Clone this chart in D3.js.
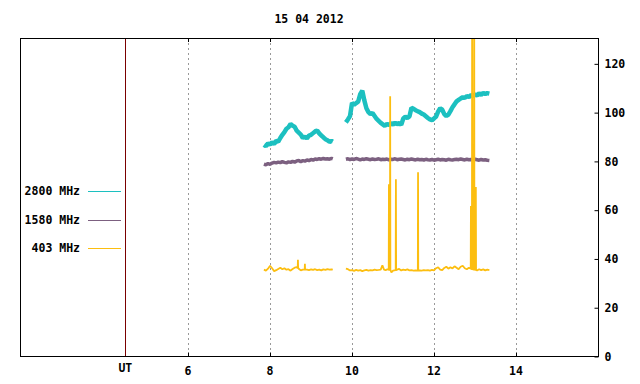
<!DOCTYPE html>
<meta charset="utf-8">
<script src="https://cdn.jsdelivr.net/npm/d3@7"></script>
<style>
	body{margin:0;background:#fff;}
	text{font-family:"DejaVu Sans Mono",monospace;font-weight:bold;font-size:11.5px;fill:#000;}
</style>
<div id="chart"></div>
<script>
var title = "15 04 2012"
var xTicks = [6,8,10,12,14]
var yTicks = [0,20,40,60,80,100,120]
var legendNames = ["2800 MHz","1580 MHz","403 MHz"]
var colors = ["#1cc0c0","#7c6080","#fcbe10"]

// first block of observations (UT hours)
var hours1 = [7.85,7.90,7.95,8.00,8.05,8.10,8.15,8.20,8.25,8.30,
	8.35,8.40,8.45,8.50,8.55,8.60,8.65,8.70,8.75,8.80,
	8.85,8.90,8.95,9.00,9.05,9.10,9.15,9.20,9.25,9.30,
	9.35,9.40,9.45,9.50,9.53]
var f2800_1 = [86.8,86.2,87.4,86.9,87.8,87.2,88.4,88.1,89.6,90.9,
	92.0,93.4,94.0,95.3,94.6,94.2,92.6,91.8,91.0,89.6,
	90.2,89.4,90.6,90.9,91.6,92.3,92.7,91.5,90.6,89.9,
	89.1,88.7,88.0,88.4,88.1]
var f1580_1 = [78.9,78.6,79.1,78.8,79.3,79.6,79.4,79.7,79.5,79.9,
	79.6,79.4,79.8,79.6,80.0,79.7,80.2,80.4,79.9,80.3,
	80.1,80.6,80.3,80.8,80.5,81.0,80.8,81.1,80.9,81.2,
	81.0,81.1,80.9,81.2,81.0]

// second block
var hours2 = [9.85,9.90,9.95,10.00,10.05,10.10,10.15,10.20,10.25,10.30,
	10.35,10.40,10.45,10.50,10.55,10.60,10.65,10.70,10.75,10.80,
	10.85,10.90,10.95,11.00,11.05,11.10,11.15,11.20,11.25,11.30,
	11.35,11.40,11.45,11.50,11.55,11.60,11.65,11.70,11.75,11.80,
	11.85,11.90,11.95,12.00,12.05,12.10,12.15,12.20,12.25,12.30,
	12.35,12.40,12.45,12.50,12.55,12.60,12.65,12.70,12.75,12.80,
	12.85,12.90,12.95,13.00,13.05,13.10,13.15,13.20,13.25,13.30,
	13.35]
var f2800_2 = [96.0,97.2,98.6,104.0,103.2,103.9,104.5,107.6,109.0,105.0,
	101.8,100.2,99.4,99.8,98.6,97.4,96.6,95.8,95.2,94.6,
	95.3,94.9,95.7,95.1,95.9,95.2,95.8,95.0,97.6,98.3,
	97.8,98.4,102.0,101.6,101.0,100.6,100.2,99.6,99.2,98.5,
	97.8,97.2,96.9,97.6,98.4,100.4,101.8,101.2,99.4,98.6,
	99.2,100.6,102.2,103.4,104.6,105.2,105.8,106.3,106.0,106.8,
	106.4,107.2,106.8,107.4,107.0,107.9,107.3,108.1,107.6,108.0,
	107.8]
var f1580_2 = [80.9,81.1,80.7,81.0,80.8,81.2,80.9,80.6,81.0,80.8,
	81.1,80.9,80.7,81.0,80.8,80.9,81.1,80.7,80.9,80.8,
	81.0,80.6,80.9,80.8,81.1,80.7,80.9,81.0,80.8,80.6,
	80.9,80.7,81.0,80.8,80.6,80.9,80.7,80.8,80.5,80.9,
	80.7,80.6,80.8,80.5,80.7,80.9,80.6,80.8,80.7,80.5,
	80.9,80.7,80.6,80.8,80.9,80.7,81.0,80.8,80.6,80.9,
	80.7,80.8,80.6,80.9,80.7,80.5,80.8,80.6,80.7,80.5,
	80.4]

// 403 MHz has its own time stamps (short bursts)
var hours403_1 = [7.85,7.90,7.95,8.00,8.05,8.10,8.15,8.20,8.25,8.30,
	8.35,8.40,8.45,8.50,8.55,8.60,8.65,8.675,8.68,8.685,
	8.70,8.75,8.80,8.845,8.85,8.855,8.90,8.95,9.00,9.05,
	9.10,9.15,9.20,9.25,9.30,9.35,9.40,9.45,9.50,9.53]
var f403_1 = [35.6,35.2,36.0,37.2,36.2,35.0,35.4,35.9,36.4,35.8,
	36.2,35.6,35.8,35.2,35.9,36.4,36.6,36.2,39.7,36.4,
	36.0,35.3,35.6,35.6,38.0,35.6,35.6,35.4,35.7,35.5,
	35.8,35.4,35.6,35.3,35.7,35.5,35.8,35.6,35.7,35.6]
var hours403_2 = [9.85,9.90,9.95,10.00,10.05,10.10,10.15,10.20,10.25,10.30,
	10.35,10.40,10.45,10.50,10.55,10.60,10.65,10.70,10.74,10.78,
	10.82,10.86,10.895,10.90,10.905,10.925,10.93,10.935,10.96,11.00,
	11.03,11.065,11.07,11.075,11.10,11.15,11.20,11.25,11.30,11.35,
	11.40,11.45,11.50,11.55,11.605,11.61,11.615,11.65,11.70,11.75,
	11.80,11.85,11.90,11.95,12.00,12.05,12.10,12.15,12.20,12.25,
	12.30,12.35,12.40,12.45,12.50,12.55,12.60,12.65,12.70,12.75,
	12.80,12.85,12.895,12.90,12.905,12.925,12.93,12.935,12.975,12.98,
	12.985,13.015,13.02,13.025,13.05,13.10,13.15,13.20,13.25,13.30,
	13.35]
var f403_2 = [36.0,35.8,35.3,35.4,35.1,35.5,35.2,35.4,35.0,35.3,
	35.5,35.2,35.4,35.3,35.6,35.4,35.5,35.6,37.4,35.6,
	35.4,35.8,35.5,70.6,35.5,35.5,106.7,35.5,34.5,35.2,
	35.3,35.4,72.7,35.4,35.6,35.9,35.3,35.6,35.4,35.7,
	35.3,35.4,35.2,35.3,35.2,75.5,35.2,35.3,35.2,35.4,
	35.3,35.4,35.2,35.5,35.3,36.2,36.6,35.6,35.4,36.3,
	36.8,36.0,36.6,36.1,37.0,36.4,35.8,36.8,37.2,36.2,
	35.8,36.4,36.0,61.7,36.0,35.8,150,35.8,35.6,150,
	35.6,35.5,69.5,35.5,35.3,35.8,35.4,35.7,35.3,35.6,
	35.4]

var width = 640
var height = 384
var pLeft = 20, pRight = 598, pTop = 38, pBottom = 356.5
var utHour = 4.47

var svg = d3.select("#chart").append("svg")
	.attr("width",width)
	.attr("height",height)

var x = d3.scaleLinear().domain([1.9,16]).range([pLeft,pRight])
var y = d3.scaleLinear().domain([0,130.6]).range([pBottom,pTop])

svg.append("defs").append("clipPath").attr("id","plot")
	.append("rect").attr("x",pLeft).attr("y",pTop)
	.attr("width",pRight-pLeft).attr("height",pBottom-pTop)

// dotted grid
svg.append("g").selectAll("line").data(xTicks).enter().append("line")
	.attr("x1",function(d){return Math.round(x(d))+0.5})
	.attr("x2",function(d){return Math.round(x(d))+0.5})
	.attr("y1",pTop).attr("y2",pBottom)
	.attr("stroke","#999")
	.attr("stroke-dasharray","2,3")

// x ticks top and bottom
svg.append("g").selectAll("line").data(xTicks).enter().append("line")
	.attr("x1",function(d){return Math.round(x(d))+0.5})
	.attr("x2",function(d){return Math.round(x(d))+0.5})
	.attr("y1",pTop).attr("y2",pTop+4)
	.attr("stroke","#000")
svg.append("g").selectAll("line").data(xTicks).enter().append("line")
	.attr("x1",function(d){return Math.round(x(d))+0.5})
	.attr("x2",function(d){return Math.round(x(d))+0.5})
	.attr("y1",pBottom-4).attr("y2",pBottom)
	.attr("stroke","#000")

svg.append("g").selectAll("text").data(xTicks).enter().append("text")
	.attr("x",function(d){return x(d)})
	.attr("y",375)
	.attr("text-anchor","middle")
	.text(function(d){return d})

// data
var line = d3.line()
	.x(function(d){return x(d[0])})
	.y(function(d){return y(d[1])})

var plot = svg.append("g").attr("clip-path","url(#plot)")
var series = [
	{c:colors[0],w:4.5,parts:[[hours1,f2800_1],[hours2,f2800_2]]},
	{c:colors[1],w:3.5,parts:[[hours1,f1580_1],[hours2,f1580_2]]},
	{c:colors[2],w:1.8,parts:[[hours403_1,f403_1],[hours403_2,f403_2]]}
]
series.forEach(function(s){
	s.parts.forEach(function(p){
		plot.append("path")
			.datum(d3.zip(p[0],p[1]))
			.attr("fill","none")
			.attr("stroke",s.c)
			.attr("stroke-width",s.w)
			.attr("stroke-linejoin","bevel")
			.attr("d",line)
	})
})

// UT divider
svg.append("line")
	.attr("x1",Math.round(x(utHour))+0.5).attr("x2",Math.round(x(utHour))+0.5)
	.attr("y1",pTop).attr("y2",pBottom)
	.attr("stroke","#7a0000")
svg.append("text").attr("x",x(utHour)).attr("y",372)
	.attr("text-anchor","middle").text("UT")

// frame
svg.append("rect")
	.attr("x",pLeft+0.5).attr("y",pTop+0.5)
	.attr("width",pRight-pLeft).attr("height",pBottom-pTop-0.5)
	.attr("fill","none").attr("stroke","#000")

// right axis
var yAxis = d3.axisRight(y).tickValues(yTicks).tickSize(-4).tickPadding(6)
var ga = svg.append("g").attr("transform","translate("+(pRight+0.5)+",0)").call(yAxis)
ga.select(".domain").remove()
ga.attr("font-family",null).attr("font-size",null)
ga.selectAll(".tick line").attr("stroke","#000")

// legend
legendNames.forEach(function(n,i){
	var ly = 191 + i*28.5
	svg.append("text").attr("x",80).attr("y",ly+4).attr("text-anchor","end").text(n)
	svg.append("line").attr("x1",88).attr("x2",121)
		.attr("y1",Math.round(ly)+0.5).attr("y2",Math.round(ly)+0.5)
		.attr("stroke",colors[i])
})

svg.append("text").attr("x",(pLeft+pRight)/2).attr("y",23)
	.attr("text-anchor","middle").text(title)
</script>
